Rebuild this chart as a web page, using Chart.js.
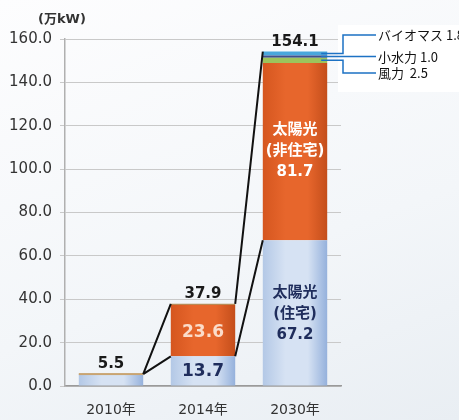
<!DOCTYPE html>
<html lang="ja">
<head>
<meta charset="UTF-8">
<title>再生可能エネルギー導入量</title>
<script src="https://cdn.jsdelivr.net/npm/chart.js"></script>
<style>
    html, body {
        margin: 0;
        padding: 0;
    }
    body {
        width: 459px;
        height: 420px;
        background: linear-gradient(160deg, #fdfdfe 0%, #f3f6f9 60%, #e9eef3 100%);
    }
    canvas {
        display: block;
    }
</style>
</head>
<body>
<canvas id="grafico" width="459" height="420"></canvas>

<script>
    // データ (万kW)
    var categorias = ['2010年', '2014年', '2030年'];
    var solarJutaku = [5.5, 13.7, 67.2];     // 太陽光(住宅)
    var solarHiJutaku = [0, 23.6, 81.7];     // 太陽光(非住宅)
    var sonota = [0, 0.6, 0];                // その他
    var furyoku = [0, 0, 2.5];               // 風力
    var shosuiryoku = [0, 0, 1.0];           // 小水力
    var biomass = [0, 0, 1.8];               // バイオマス
    var goukei = ['5.5', '37.9', '154.1'];   // 合計ラベル
    var yTicks = [0, 20, 40, 60, 80, 100, 120, 140, 160];

    var fontJp = '"DejaVu Sans", "Noto Sans CJK JP", sans-serif';
    var larguraBarra = 0.7;

    // 棒の横方向グラデーション (立体風)
    function gradiente(cores) {
        return function (ctx) {
            var chart = ctx.chart;
            var xs = chart.scales.x;
            if (!chart.chartArea || !xs || ctx.dataIndex === undefined) return cores[1];
            var centro = xs.getPixelForTick(ctx.dataIndex);
            var w = (xs.width / categorias.length) * larguraBarra;
            var x0 = centro - w / 2;
            var g = chart.ctx.createLinearGradient(x0, 0, x0 + w, 0);
            g.addColorStop(0, cores[0]);
            g.addColorStop(0.35, cores[1]);
            g.addColorStop(0.7, cores[1]);
            g.addColorStop(1, cores[2]);
            return g;
        };
    }

    // ラベル・接続線・注記を描くプラグイン
    var anotacoes = {
        id: 'anotacoes',
        afterDatasetsDraw: function (chart) {
            var c = chart.ctx;
            var y = chart.scales.y;
            var mRes = chart.getDatasetMeta(0);
            var mNon = chart.getDatasetMeta(1);
            var totais = categorias.map(function (_, i) {
                return solarJutaku[i] + solarHiJutaku[i] + sonota[i] + furyoku[i] + shosuiryoku[i] + biomass[i];
            });
            function esq(i) { var b = mRes.data[i]; return b.x - b.width / 2; }
            function dir(i) { var b = mRes.data[i]; return b.x + b.width / 2; }

            c.save();
            // 2010年の棒の上端の線
            c.fillStyle = '#c9a472';
            c.fillRect(esq(0), y.getPixelForValue(totais[0]) - 1, dir(0) - esq(0), 2);

            // 接続線
            c.strokeStyle = '#111';
            c.lineWidth = 2;
            c.beginPath();
            c.moveTo(dir(0), y.getPixelForValue(totais[0]));
            c.lineTo(esq(1), y.getPixelForValue(totais[1]));
            c.moveTo(dir(0), y.getPixelForValue(totais[0]));
            c.lineTo(esq(1), y.getPixelForValue(solarJutaku[1]));
            c.moveTo(dir(1), y.getPixelForValue(totais[1]));
            c.lineTo(esq(2), y.getPixelForValue(totais[2]));
            c.moveTo(dir(1), y.getPixelForValue(solarJutaku[1]));
            c.lineTo(esq(2), y.getPixelForValue(solarJutaku[2]));
            c.stroke();

            // 合計ラベル
            c.textAlign = 'center';
            c.textBaseline = 'bottom';
            c.fillStyle = '#1a1a1a';
            c.font = 'bold 15px ' + fontJp;
            for (var i = 0; i < categorias.length; i++) {
                c.fillText(goukei[i], mRes.data[i].x, y.getPixelForValue(totais[i]) - 2);
            }

            // 棒の中のラベル
            c.textBaseline = 'middle';
            c.font = 'bold 17px ' + fontJp;
            var b1 = mRes.data[1];
            c.fillStyle = '#1f2d5c';
            c.fillText(solarJutaku[1].toFixed(1), b1.x, (b1.y + b1.base) / 2 + 1);
            var n1 = mNon.data[1];
            c.fillStyle = '#fbdcca';
            c.fillText(solarHiJutaku[1].toFixed(1), n1.x, (n1.y + n1.base) / 2 + 2);

            c.font = 'bold 15px ' + fontJp;
            var b2 = mRes.data[2];
            var cy = (b2.y + b2.base) / 2;
            c.fillStyle = '#1f2d5c';
            c.fillText('太陽光', b2.x, cy - 20);
            c.fillText('(住宅)', b2.x, cy + 1);
            c.fillText(solarJutaku[2].toFixed(1), b2.x, cy + 22);
            var n2 = mNon.data[2];
            cy = (n2.y + n2.base) / 2;
            c.fillStyle = '#ffffff';
            c.fillText('太陽光', n2.x, cy - 22);
            c.fillText('(非住宅)', n2.x, cy - 1);
            c.fillText(solarHiJutaku[2].toFixed(1), n2.x, cy + 20);

            // 右側の注記
            c.fillStyle = '#ffffff';
            c.fillRect(338, 25, 121, 67);
            var topo = solarJutaku[2] + solarHiJutaku[2];
            var yVento = y.getPixelForValue(topo + furyoku[2] / 2);
            var yHidro = y.getPixelForValue(topo + furyoku[2] + shosuiryoku[2] / 2);
            var yBio = y.getPixelForValue(topo + furyoku[2] + shosuiryoku[2] + biomass[2] / 2);
            var xb = dir(2) - 6;
            c.strokeStyle = '#1d72c4';
            c.lineWidth = 1.5;
            c.beginPath();
            c.moveTo(xb, yBio); c.lineTo(343, yBio); c.lineTo(343, 35); c.lineTo(376, 35);
            c.moveTo(xb, yHidro); c.lineTo(376, yHidro);
            c.moveTo(xb, yVento); c.lineTo(343, yVento); c.lineTo(343, 73); c.lineTo(376, 73);
            c.stroke();

            c.fillStyle = '#111';
            c.textAlign = 'left';
            c.font = '13px "Noto Sans CJK JP", sans-serif';
            c.fillText('バイオマス ' + biomass[2].toFixed(1), 378, 35);
            c.fillText('小水力 ' + shosuiryoku[2].toFixed(1), 378, yHidro);
            c.fillText('風力  ' + furyoku[2].toFixed(1), 378, 73);

            // 単位
            c.fillStyle = '#333';
            c.textAlign = 'left';
            c.font = 'bold 13px ' + fontJp;
            c.fillText('(万kW)', 38, 20);
            c.restore();
        }
    };

    var ctx = document.getElementById('grafico').getContext('2d');
    var grafico = new Chart(ctx, {
        type: 'bar',
        data: {
            labels: categorias,
            datasets: [{
                label: '太陽光(住宅)',
                data: solarJutaku,
                backgroundColor: gradiente(['#b3c8e6', '#d6e2f3', '#95b1dc']),
                borderWidth: 0
            }, {
                label: '太陽光(非住宅)',
                data: solarHiJutaku,
                backgroundColor: gradiente(['#d5561f', '#e7662c', '#c44e1b']),
                borderWidth: 0
            }, {
                label: 'その他',
                data: sonota,
                backgroundColor: '#b98a55',
                borderWidth: 0
            }, {
                label: '風力',
                data: furyoku,
                backgroundColor: '#9cc45c',
                borderWidth: 0
            }, {
                label: '小水力',
                data: shosuiryoku,
                backgroundColor: '#3f4f8e',
                borderWidth: 0
            }, {
                label: 'バイオマス',
                data: biomass,
                backgroundColor: '#49a7dc',
                borderWidth: 0
            }]
        },
        options: {
            responsive: false,
            animation: false,
            layout: {
                padding: { top: 39, right: 118, bottom: 0, left: 0 }
            },
            datasets: {
                bar: {
                    categoryPercentage: 1.0,
                    barPercentage: larguraBarra
                }
            },
            plugins: {
                legend: { display: false },
                tooltip: { enabled: false }
            },
            scales: {
                x: {
                    stacked: true,
                    afterFit: function (scale) { scale.height = 34; },
                    grid: { display: false },
                    border: { color: '#9a9a9a', width: 1.5 },
                    ticks: {
                        color: '#333',
                        padding: 8,
                        font: { family: fontJp, size: 14 }
                    }
                },
                y: {
                    stacked: true,
                    min: 0,
                    max: 160,
                    afterFit: function (scale) { scale.width = 65; },
                    afterBuildTicks: function (scale) {
                        scale.ticks = yTicks.map(function (v) { return { value: v }; });
                    },
                    grid: { color: '#c9c9c9', tickLength: 5 },
                    border: { color: '#b0b0b0', width: 1.5 },
                    ticks: {
                        color: '#333',
                        padding: 8,
                        font: { family: fontJp, size: 15 },
                        callback: function (v) { return Number(v).toFixed(1); }
                    }
                }
            }
        },
        plugins: [anotacoes]
    });
</script>
</body>
</html>
